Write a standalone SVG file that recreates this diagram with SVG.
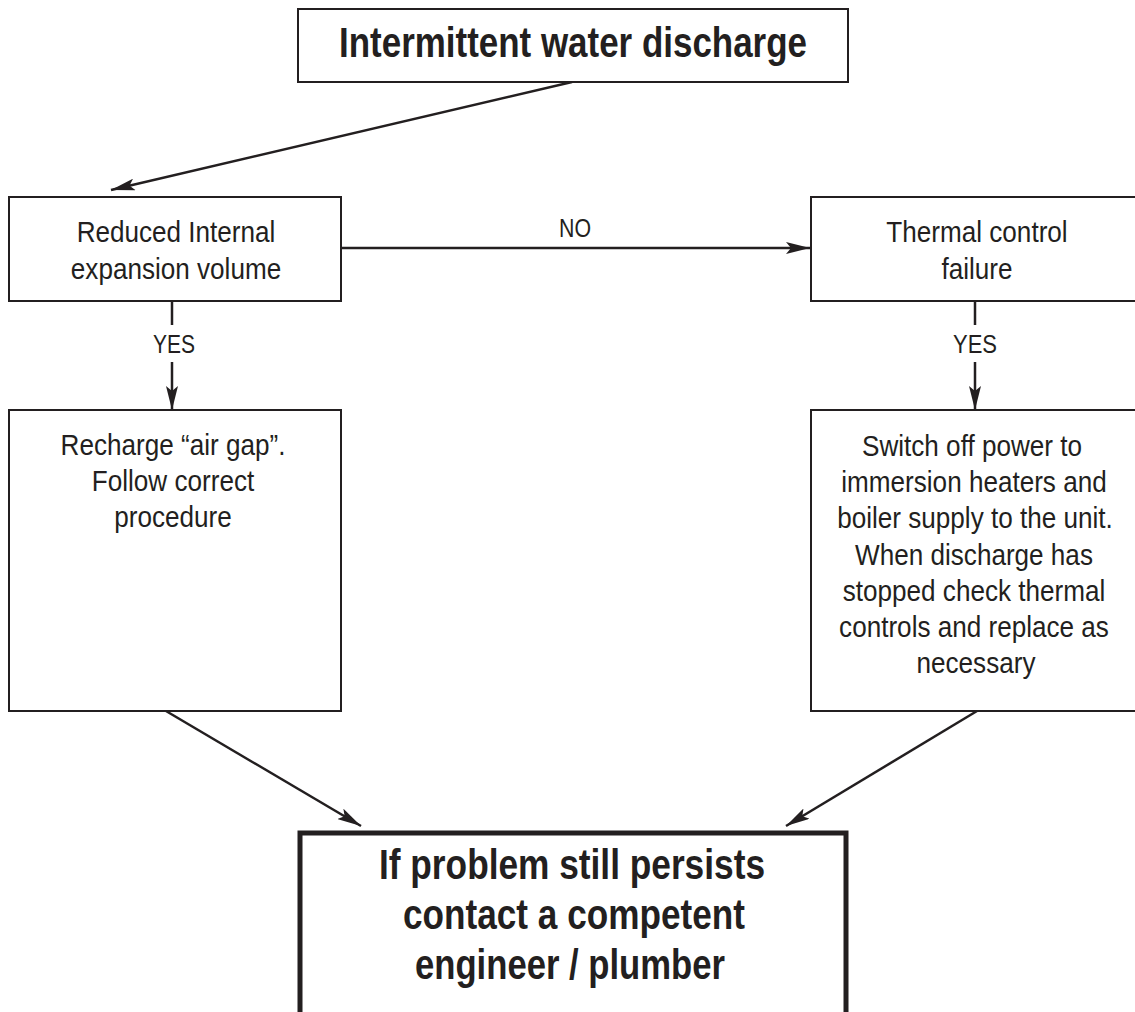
<svg xmlns="http://www.w3.org/2000/svg" width="1135" height="1012" viewBox="0 0 1135 1012">
<style>
  .box { fill: #fff; stroke: #231f20; stroke-width: 2; }
  .boxb { fill: #fff; stroke: #231f20; stroke-width: 5; }
  .t { font-family: "Liberation Sans", Arial, sans-serif; font-size: 30px; fill: #231f20; text-anchor: middle; }
  .tb { font-family: "Liberation Sans", Arial, sans-serif; font-size: 42px; font-weight: bold; fill: #231f20; text-anchor: middle; }
  .lbl { font-family: "Liberation Sans", Arial, sans-serif; font-size: 26px; fill: #231f20; text-anchor: middle; }
  .c { stroke: #231f20; stroke-width: 2.5; fill: none; }
</style>
<defs>
  <marker id="arr" viewBox="0 0 24 12" refX="24" refY="6" markerWidth="24" markerHeight="12" markerUnits="userSpaceOnUse" orient="auto">
    <path d="M0,0 L24,6 L0,12 L5,6 Z" fill="#231f20"/>
  </marker>
</defs>
<rect width="1135" height="1012" fill="#fff"/>

<g id="connectors">
  <line class="c" x1="572" y1="82" x2="111" y2="190" marker-end="url(#arr)"/>
  <line class="c" x1="341" y1="248" x2="810" y2="248" marker-end="url(#arr)"/>
  <text class="lbl" x="575" y="237" textLength="32" lengthAdjust="spacingAndGlyphs">NO</text>
  <line class="c" x1="172" y1="301" x2="172" y2="325"/>
  <text class="lbl" x="174" y="353" textLength="42" lengthAdjust="spacingAndGlyphs">YES</text>
  <line class="c" x1="172" y1="362" x2="172" y2="410" marker-end="url(#arr)"/>
  <line class="c" x1="975" y1="301" x2="975" y2="325"/>
  <text class="lbl" x="975" y="353" textLength="44" lengthAdjust="spacingAndGlyphs">YES</text>
  <line class="c" x1="975" y1="362" x2="975" y2="410" marker-end="url(#arr)"/>
  <line class="c" x1="166" y1="711" x2="361" y2="826" marker-end="url(#arr)"/>
  <line class="c" x1="977" y1="711" x2="786" y2="826" marker-end="url(#arr)"/>
</g>

<g id="start">
  <rect class="box" x="298" y="9" width="550" height="73"/>
  <text class="tb" x="573" y="57" textLength="468" lengthAdjust="spacingAndGlyphs">Intermittent water discharge</text>
</g>

<g id="reduced">
  <rect class="box" x="9" y="197" width="332" height="104"/>
  <text class="t" transform="matrix(0.87 0 0 1 176 242)">Reduced Internal</text>
  <text class="t" transform="matrix(0.87 0 0 1 176 279)">expansion volume</text>
</g>

<g id="thermal">
  <rect class="box" x="811" y="197" width="330" height="104"/>
  <text class="t" transform="matrix(0.87 0 0 1 977 242)">Thermal control</text>
  <text class="t" transform="matrix(0.87 0 0 1 977 279)">failure</text>
</g>

<g id="recharge">
  <rect class="box" x="9" y="410" width="332" height="301"/>
  <text class="t" transform="matrix(0.87 0 0 1 173 455)">Recharge “air gap”.</text>
  <text class="t" transform="matrix(0.87 0 0 1 173 491)">Follow correct</text>
  <text class="t" transform="matrix(0.87 0 0 1 173 527)">procedure</text>
</g>

<g id="switchoff">
  <rect class="box" x="811" y="410" width="330" height="301"/>
  <text class="t" transform="matrix(0.87 0 0 1 972 456)">Switch off power to</text>
  <text class="t" transform="matrix(0.87 0 0 1 974 492)">immersion heaters and</text>
  <text class="t" transform="matrix(0.87 0 0 1 975 528)">boiler supply to the unit.</text>
  <text class="t" transform="matrix(0.87 0 0 1 974 565)">When discharge has</text>
  <text class="t" transform="matrix(0.87 0 0 1 974 601)">stopped check thermal</text>
  <text class="t" transform="matrix(0.87 0 0 1 974 637)">controls and replace as</text>
  <text class="t" transform="matrix(0.87 0 0 1 976 673)">necessary</text>
</g>

<g id="persists">
  <rect class="boxb" x="300" y="833" width="546" height="200"/>
  <text class="tb" x="572" y="879" font-size="40" textLength="386" lengthAdjust="spacingAndGlyphs">If problem still persists</text>
  <text class="tb" x="574" y="929" font-size="40" textLength="342" lengthAdjust="spacingAndGlyphs">contact a competent</text>
  <text class="tb" x="570" y="979" font-size="40" textLength="310" lengthAdjust="spacingAndGlyphs">engineer / plumber</text>
</g>
</svg>
